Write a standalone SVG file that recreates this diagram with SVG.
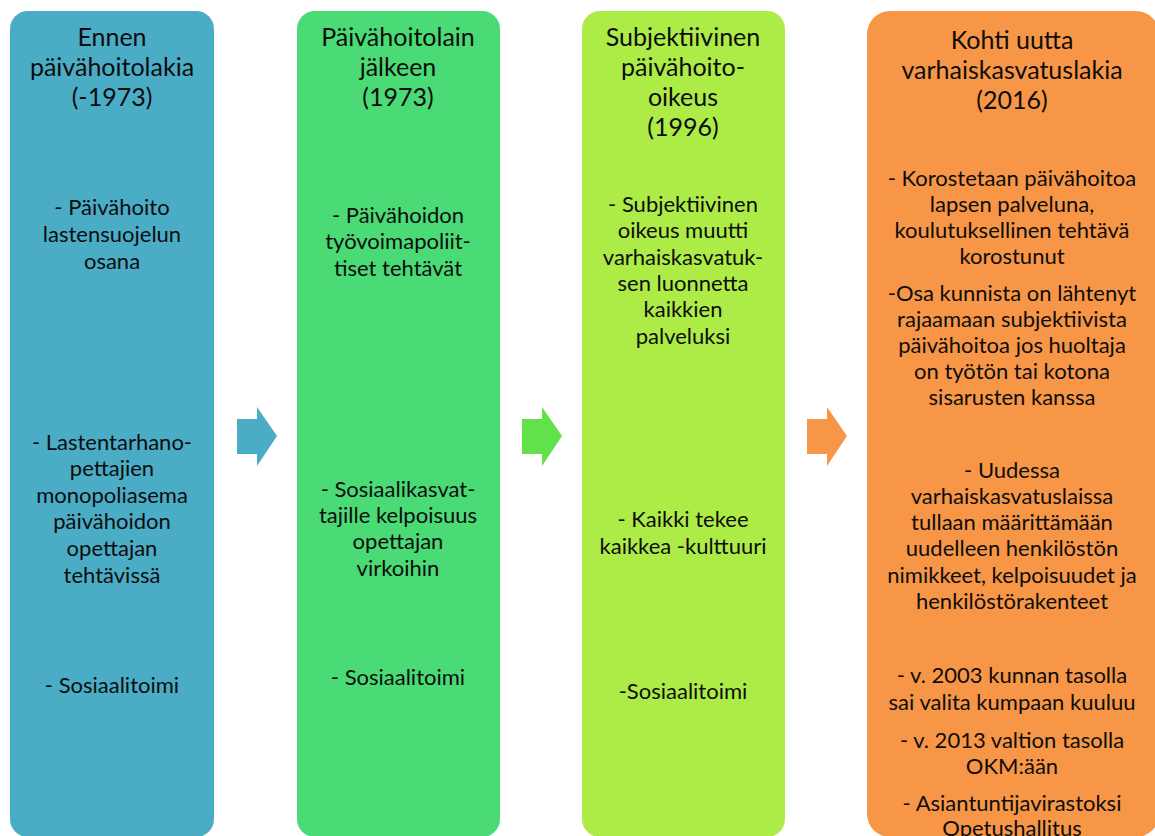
<svg xmlns="http://www.w3.org/2000/svg" width="1155" height="836" viewBox="0 0 1155 836">
<style>
text{font-family:Lato,"Liberation Sans",sans-serif;fill:#0d0d0d;text-anchor:middle}
.t{font-size:25px}
.b{font-size:22px}
</style>
<rect width="1155" height="836" fill="#fff"/>
<g id="connectors">
<polygon points="237,419 257,419 257,407 277,436 257,466 257,454 237,454" fill="#4BACC6"/>
<polygon points="522,419 542,419 542,407 562,436 542,466 542,454 522,454" fill="#62E24A"/>
<polygon points="807,419 827,419 827,407 847,436 827,466 827,454 807,454" fill="#F79646"/>
</g>
<g id="n1">
<rect x="10" y="11" width="204" height="826" rx="18" fill="#4BACC6"/>
<text class="t"><tspan x="112" y="46">Ennen</tspan><tspan x="112" y="76">päivähoitolakia</tspan><tspan x="112" y="106">(-1973)</tspan></text>
<text class="b"><tspan x="112" y="215">- Päivähoito</tspan><tspan x="112" y="242">lastensuojelun</tspan><tspan x="112" y="269">osana</tspan></text>
<text class="b"><tspan x="112" y="450">- Lastentarhano-</tspan><tspan x="112" y="476">pettajien</tspan><tspan x="112" y="503">monopoliasema</tspan><tspan x="112" y="529">päivähoidon</tspan><tspan x="112" y="556">opettajan</tspan><tspan x="112" y="583">tehtävissä</tspan></text>
<text class="b"><tspan x="112" y="693">- Sosiaalitoimi</tspan></text>
</g>
<g id="n2">
<rect x="297" y="11" width="203" height="826" rx="18" fill="#4ADA76"/>
<text class="t"><tspan x="398" y="46">Päivähoitolain</tspan><tspan x="398" y="76">jälkeen</tspan><tspan x="398" y="106">(1973)</tspan></text>
<text class="b"><tspan x="398" y="223">- Päivähoidon</tspan><tspan x="398" y="249">työvoimapoliit-</tspan><tspan x="398" y="276">tiset tehtävät</tspan></text>
<text class="b"><tspan x="398" y="497">- Sosiaalikasvat-</tspan><tspan x="398" y="523">tajille kelpoisuus</tspan><tspan x="398" y="549">opettajan</tspan><tspan x="398" y="576">virkoihin</tspan></text>
<text class="b"><tspan x="398" y="685">- Sosiaalitoimi</tspan></text>
</g>
<g id="n3">
<rect x="582" y="11" width="203" height="826" rx="18" fill="#ADEB47"/>
<text class="t"><tspan x="683" y="46">Subjektiivinen</tspan><tspan x="683" y="76">päivähoito-</tspan><tspan x="683" y="106">oikeus</tspan><tspan x="683" y="136">(1996)</tspan></text>
<text class="b"><tspan x="683" y="212">- Subjektiivinen</tspan><tspan x="683" y="238">oikeus muutti</tspan><tspan x="683" y="265">varhaiskasvatuk-</tspan><tspan x="683" y="291">sen luonnetta</tspan><tspan x="683" y="317">kaikkien</tspan><tspan x="683" y="344">palveluksi</tspan></text>
<text class="b"><tspan x="683" y="527">- Kaikki tekee</tspan><tspan x="683" y="554">kaikkea -kulttuuri</tspan></text>
<text class="b"><tspan x="683" y="699">-Sosiaalitoimi</tspan></text>
</g>
<g id="n4">
<rect x="867" y="11" width="292" height="826" rx="23" fill="#F79646"/>
<text class="t"><tspan x="1012" y="49">Kohti uutta</tspan><tspan x="1012" y="79">varhaiskasvatuslakia</tspan><tspan x="1012" y="109">(2016)</tspan></text>
<text class="b"><tspan x="1012" y="186">- Korostetaan päivähoitoa</tspan><tspan x="1012" y="212">lapsen palveluna,</tspan><tspan x="1012" y="238">koulutuksellinen tehtävä</tspan><tspan x="1012" y="264">korostunut</tspan></text>
<text class="b"><tspan x="1012" y="301">-Osa kunnista on lähtenyt</tspan><tspan x="1012" y="327">rajaamaan subjektiivista</tspan><tspan x="1012" y="353">päivähoitoa jos huoltaja</tspan><tspan x="1012" y="379">on työtön tai kotona</tspan><tspan x="1012" y="405">sisarusten kanssa</tspan></text>
<text class="b"><tspan x="1012" y="478">- Uudessa</tspan><tspan x="1012" y="504">varhaiskasvatuslaissa</tspan><tspan x="1012" y="530">tullaan määrittämään</tspan><tspan x="1012" y="556">uudelleen henkilöstön</tspan><tspan x="1012" y="583">nimikkeet, kelpoisuudet ja</tspan><tspan x="1012" y="609">henkilöstörakenteet</tspan></text>
<text class="b"><tspan x="1012" y="683">- v. 2003 kunnan tasolla</tspan><tspan x="1012" y="710">sai valita kumpaan kuuluu</tspan></text>
<text class="b"><tspan x="1012" y="748">- v. 2013 valtion tasolla</tspan><tspan x="1012" y="774">OKM:ään</tspan></text>
<text class="b"><tspan x="1012" y="811">- Asiantuntijavirastoksi</tspan><tspan x="1012" y="836">Opetushallitus</tspan></text>
</g>
</svg>
